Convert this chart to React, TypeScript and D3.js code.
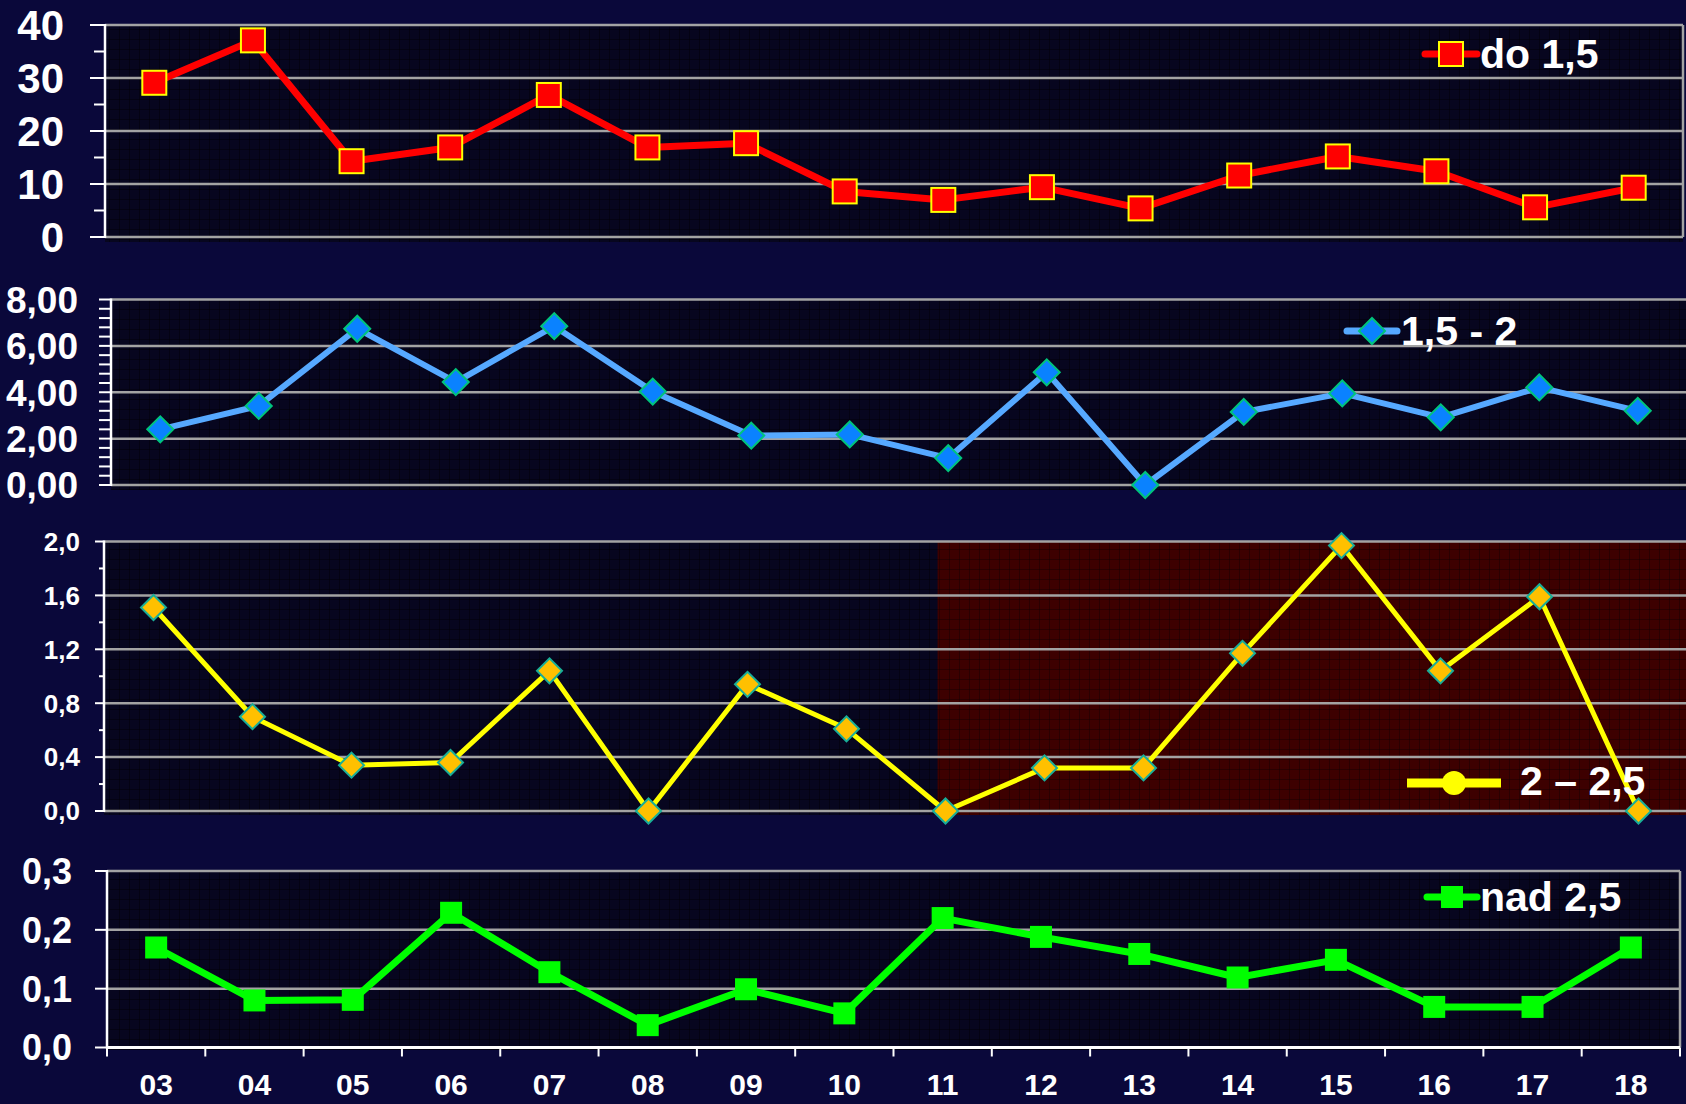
import * as d3 from "d3";
import React from "react";

// years on the shared x axis
const years = ["03", "04", "05", "06", "07", "08", "09", "10", "11", "12", "13", "14", "15", "16", "17", "18"];

// one series per panel
const do15 = [29.1, 37.1, 14.3, 16.9, 26.8, 16.9, 17.7, 8.6, 7.0, 9.4, 5.4, 11.6, 15.2, 12.4, 5.6, 9.3];
const from15to2 = [2.4, 3.41, 6.74, 4.44, 6.85, 4.03, 2.13, 2.18, 1.16, 4.86, 0.0, 3.15, 3.95, 2.92, 4.21, 3.2];
const from2to25 = [1.51, 0.7, 0.34, 0.36, 1.04, 0.0, 0.94, 0.61, 0.0, 0.32, 0.32, 1.17, 1.97, 1.04, 1.59, 0.0];
const nad25 = [0.17, 0.08, 0.081, 0.229, 0.128, 0.038, 0.099, 0.058, 0.22, 0.188, 0.159, 0.119, 0.149, 0.069, 0.069, 0.17];

const legendLabels = ["do 1,5", "1,5 - 2", "2 \u2013 2,5", "nad 2,5"];
const highlightFrom = "11"; // red background in the third panel starts here

const W = 1686;
const H = 1104;
const FONT = "'Liberation Sans', Arial, Helvetica, sans-serif";
const comma = (f: string) => (v: number) => d3.format(f)(v).replace(".", ",");

type MarkerKind = "square" | "diamond" | "circle";

const Marker = ({ kind, x, y, size, fill, stroke, sw = 2 }: any) => {
  if (kind === "circle") return <circle cx={x} cy={y} r={size / 2} fill={fill} />;
  if (kind === "diamond") {
    const s = size / Math.SQRT2;
    return (
      <rect x={-s / 2} y={-s / 2} width={s} height={s} fill={fill} stroke={stroke} strokeWidth={sw}
        transform={`translate(${x},${y}) rotate(45)`} />
    );
  }
  return <rect x={x - size / 2} y={y - size / 2} width={size} height={size} fill={fill} stroke={stroke} strokeWidth={stroke ? sw : 0} />;
};

const Panel = (p: any) => {
  const x = d3.scaleBand<string>().domain(years).range([p.left, p.right]).padding(0);
  const cx = (c: string) => (x(c) ?? 0) + x.bandwidth() / 2;
  const y = d3.scaleLinear().domain([0, p.max]).range([p.bottom, p.top]);
  const grid = d3.range(0, p.max + p.gridStep / 2, p.gridStep);
  const minor = d3.range(0, p.max + p.minorStep / 2, p.minorStep);
  const line = d3.line<number>((d, i) => cx(years[i]), (d) => y(d));
  const bgRight = Math.min(p.right, W);
  const hx = (x(highlightFrom) ?? 0) + x.bandwidth() * 0.42;
  const lg = p.legend;

  return (
    <g>
      <rect x={p.left} y={p.top} width={bgRight - p.left} height={p.bgBottom - p.top} fill="url(#gridDark)" />
      {p.highlight && (
        <rect x={hx} y={p.top} width={bgRight - hx} height={p.bgBottom - p.top} fill="url(#gridRed)" />
      )}
      {grid.map((g) => (
        <line key={g} x1={p.left} x2={bgRight} y1={y(g)} y2={y(g)} stroke="#a3a3a3" strokeWidth={2.5} />
      ))}
      {p.border && <line x1={p.right} x2={p.right} y1={p.top} y2={p.bottom} stroke="#a3a3a3" strokeWidth={2.5} />}
      {/* left axis */}
      <line x1={p.left} x2={p.left} y1={p.top - 1} y2={p.bottom + 1} stroke="#fff" strokeWidth={2.5} />
      {minor.map((m, i) => {
        const isMajor = Math.abs(m / p.gridStep - Math.round(m / p.gridStep)) < 1e-6;
        return (
          <line key={i} x1={p.left - (isMajor ? p.majorLen : p.minorLen)} x2={p.left} y1={y(m)} y2={y(m)}
            stroke="#fff" strokeWidth={2} />
        );
      })}
      {grid.map((g) => (
        <text key={g} x={p.labelRight} y={y(g)} dy="0.36em" textAnchor="end" fill="#fff"
          fontFamily={FONT} fontWeight="bold" fontSize={p.labelSize}>{p.fmt(g)}</text>
      ))}
      {p.xAxis && (
        <g>
          <line x1={p.left} x2={p.right} y1={p.bottom} y2={p.bottom} stroke="#fff" strokeWidth={3} />
          {years.concat([""]).map((c, i) => {
            const tx = c ? x(c) ?? 0 : p.right;
            return <line key={i} x1={tx} x2={tx} y1={p.bottom} y2={p.bottom + 9} stroke="#fff" strokeWidth={2} />;
          })}
          {years.map((c) => (
            <text key={c} x={cx(c)} y={1095} textAnchor="middle" fill="#fff" fontFamily={FONT}
              fontWeight="bold" fontSize={30}>{c}</text>
          ))}
        </g>
      )}
      <path d={line(p.values) ?? undefined} fill="none" stroke={p.lineColor} strokeWidth={p.lineWidth}
        strokeLinejoin="round" />
      {p.values.map((v: number, i: number) => (
        <Marker key={i} kind={p.marker} x={cx(years[i])} y={y(v)} size={p.markerSize}
          fill={p.markerFill} stroke={p.markerStroke} />
      ))}
      {/* legend */}
      <line x1={lg.x1} x2={lg.x2} y1={lg.y} y2={lg.y} stroke={p.lineColor} strokeWidth={lg.width}
        strokeLinecap={lg.cap} />
      <Marker kind={lg.marker as MarkerKind} x={(lg.x1 + lg.x2) / 2} y={lg.y} size={lg.size}
        fill={lg.fill ?? p.markerFill} stroke={lg.marker === "circle" ? undefined : p.markerStroke} />
      <text x={lg.textX} y={lg.baseline} fill="#fff" fontFamily={FONT} fontWeight="bold" fontSize={41}>
        {p.label}
      </text>
    </g>
  );
};

export default function App() {
  return (
    <svg width={W} height={H} style={{ position: "absolute", left: 0, top: 0, display: "block" }}>
      <defs>
        <pattern id="gridDark" width={10} height={10} patternUnits="userSpaceOnUse">
          <rect width={10} height={10} fill="#07061f" />
          <path d="M10 0V10H0" fill="none" stroke="#000006" strokeWidth={1} />
        </pattern>
        <pattern id="gridRed" width={10} height={10} patternUnits="userSpaceOnUse">
          <rect width={10} height={10} fill="#3d0000" />
          <path d="M10 0V10H0" fill="none" stroke="#160000" strokeWidth={1} />
        </pattern>
      </defs>
      <rect width={W} height={H} fill="#0a083a" />

      <Panel values={do15} label={legendLabels[0]} left={105} right={1683} top={25} bottom={237} bgBottom={242}
        max={40} gridStep={10} minorStep={5} majorLen={15} minorLen={11} fmt={d3.format("d")}
        labelSize={42} labelRight={64} lineColor="#ff0000" lineWidth={7} marker="square" markerSize={24}
        markerFill="#ff0000" markerStroke="#ffff00" border
        legend={{ x1: 1425, x2: 1477, y: 54, width: 7, cap: "round", marker: "square", size: 24, textX: 1480, baseline: 68 }} />

      <Panel values={from15to2} label={legendLabels[1]} left={111} right={1687} top={299.5} bottom={485} bgBottom={490}
        max={8} gridStep={2} minorStep={0.4} majorLen={12} minorLen={12} fmt={comma(".2f")}
        labelSize={37} labelRight={78} lineColor="#56a9ff" lineWidth={6} marker="diamond" markerSize={26}
        markerFill="#0a82ff" markerStroke="#00c47c"
        legend={{ x1: 1347, x2: 1397, y: 331, width: 7, cap: "round", marker: "diamond", size: 26, textX: 1401, baseline: 345 }} />

      <Panel values={from2to25} label={legendLabels[2]} left={104} right={1688} top={541.5} bottom={811} bgBottom={815}
        max={2} gridStep={0.4} minorStep={0.2} majorLen={9} minorLen={5} fmt={comma(".1f")}
        labelSize={26} labelRight={80} lineColor="#ffff00" lineWidth={5} marker="diamond" markerSize={25}
        markerFill="#ffc000" markerStroke="#19ae98" highlight
        legend={{ x1: 1407, x2: 1501, y: 783, width: 9, cap: "butt", marker: "circle", size: 24, fill: "#ffff00", textX: 1520, baseline: 795 }} />

      <Panel values={nad25} label={legendLabels[3]} left={107} right={1680} top={871} bottom={1047.5} bgBottom={1050}
        max={0.3} gridStep={0.1} minorStep={0.1} majorLen={12} minorLen={12} fmt={comma(".1f")}
        labelSize={36} labelRight={72} lineColor="#00ff00" lineWidth={7} marker="square" markerSize={22}
        markerFill="#00ff00" border xAxis
        legend={{ x1: 1427, x2: 1477, y: 897, width: 7, cap: "round", marker: "square", size: 22, textX: 1480, baseline: 911 }} />
    </svg>
  );
}
